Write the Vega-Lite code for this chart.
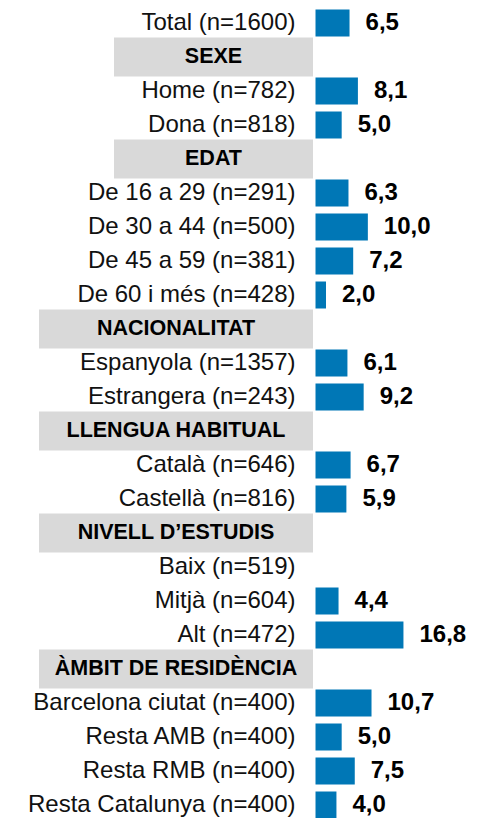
{
  "$schema": "https://vega.github.io/schema/vega-lite/v6.json",
  "width": 477,
  "height": 816,
  "autosize": {"type": "none"},
  "padding": {"top": 6, "left": 0, "right": 0, "bottom": 0},
  "background": "white",
  "config": {
    "view": {"stroke": null},
    "locale": {"number": {"decimal": ",", "thousands": ".", "grouping": [3], "currency": ["", " €"]}},
    "text": {"font": "Liberation Sans"}
  },
  "data": {
    "values": [
      {"label": "Total (n=1600)", "kind": "item", "value": 6.5},
      {"label": "SEXE", "kind": "header", "value": null},
      {"label": "Home (n=782)", "kind": "item", "value": 8.1},
      {"label": "Dona (n=818)", "kind": "item", "value": 5.0},
      {"label": "EDAT", "kind": "header", "value": null},
      {"label": "De 16 a 29 (n=291)", "kind": "item", "value": 6.3},
      {"label": "De 30 a 44 (n=500)", "kind": "item", "value": 10.0},
      {"label": "De 45 a 59 (n=381)", "kind": "item", "value": 7.2},
      {"label": "De 60 i més (n=428)", "kind": "item", "value": 2.0},
      {"label": "NACIONALITAT", "kind": "header", "value": null},
      {"label": "Espanyola (n=1357)", "kind": "item", "value": 6.1},
      {"label": "Estrangera (n=243)", "kind": "item", "value": 9.2},
      {"label": "LLENGUA HABITUAL", "kind": "header", "value": null},
      {"label": "Català (n=646)", "kind": "item", "value": 6.7},
      {"label": "Castellà (n=816)", "kind": "item", "value": 5.9},
      {"label": "NIVELL D’ESTUDIS", "kind": "header", "value": null},
      {"label": "Baix (n=519)", "kind": "item", "value": null},
      {"label": "Mitjà (n=604)", "kind": "item", "value": 4.4},
      {"label": "Alt (n=472)", "kind": "item", "value": 16.8},
      {"label": "ÀMBIT DE RESIDÈNCIA", "kind": "header", "value": null},
      {"label": "Barcelona ciutat (n=400)", "kind": "item", "value": 10.7},
      {"label": "Resta AMB (n=400)", "kind": "item", "value": 5.0},
      {"label": "Resta RMB (n=400)", "kind": "item", "value": 7.5},
      {"label": "Resta Catalunya (n=400)", "kind": "item", "value": 4.0}
    ]
  },
  "encoding": {
    "y": {
      "field": "label",
      "type": "nominal",
      "sort": null,
      "axis": null,
      "scale": {
        "paddingInner": 0,
        "paddingOuter": 0,
        "domain": ["Total (n=1600)", "SEXE", "Home (n=782)", "Dona (n=818)", "EDAT", "De 16 a 29 (n=291)", "De 30 a 44 (n=500)", "De 45 a 59 (n=381)", "De 60 i més (n=428)", "NACIONALITAT", "Espanyola (n=1357)", "Estrangera (n=243)", "LLENGUA HABITUAL", "Català (n=646)", "Castellà (n=816)", "NIVELL D’ESTUDIS", "Baix (n=519)", "Mitjà (n=604)", "Alt (n=472)", "ÀMBIT DE RESIDÈNCIA", "Barcelona ciutat (n=400)", "Resta AMB (n=400)", "Resta RMB (n=400)", "Resta Catalunya (n=400)"]
      }
    }
  },
  "layer": [
    {
      "transform": [{"filter": "datum.label === 'SEXE' || datum.label === 'EDAT'"}],
      "mark": {"type": "bar", "color": "#d9d9d9", "size": 39},
      "encoding": {
        "x": {"datum": -38.49, "type": "quantitative", "scale": {"domain": [-60.27, 30.85], "nice": false, "zero": false}, "axis": null},
        "x2": {"datum": -0.48}
      }
    },
    {
      "transform": [{"filter": "datum.kind === 'header' && datum.label !== 'SEXE' && datum.label !== 'EDAT'"}],
      "mark": {"type": "bar", "color": "#d9d9d9", "size": 39},
      "encoding": {
        "x": {"datum": -52.82, "type": "quantitative"},
        "x2": {"datum": -0.48}
      }
    },
    {
      "transform": [{"filter": "datum.label === 'SEXE' || datum.label === 'EDAT'"}],
      "mark": {"type": "text", "fontWeight": "bold", "fontSize": 21.5, "align": "center", "baseline": "middle", "color": "#000000"},
      "encoding": {
        "x": {"datum": -19.49, "type": "quantitative"},
        "text": {"field": "label"}
      }
    },
    {
      "transform": [{"filter": "datum.kind === 'header' && datum.label !== 'SEXE' && datum.label !== 'EDAT'"}],
      "mark": {"type": "text", "fontWeight": "bold", "fontSize": 21.5, "align": "center", "baseline": "middle", "color": "#000000"},
      "encoding": {
        "x": {"datum": -26.65, "type": "quantitative"},
        "text": {"field": "label"}
      }
    },
    {
      "transform": [{"filter": "datum.kind === 'item'"}],
      "mark": {"type": "text", "fontSize": 24, "align": "right", "baseline": "middle", "dx": -20, "color": "#111111"},
      "encoding": {
        "x": {"datum": 0, "type": "quantitative"},
        "text": {"field": "label"}
      }
    },
    {
      "transform": [{"filter": "datum.value != null"}],
      "mark": {"type": "bar", "color": "#0077b6", "size": 27},
      "encoding": {
        "x": {"field": "value", "type": "quantitative"},
        "x2": {"datum": 0}
      }
    },
    {
      "transform": [{"filter": "datum.value != null"}],
      "mark": {"type": "text", "fontSize": 24, "fontWeight": "bold", "align": "left", "baseline": "middle", "dx": 16, "color": "#000000"},
      "encoding": {
        "x": {"field": "value", "type": "quantitative"},
        "text": {"field": "value", "type": "quantitative", "format": ".1f"}
      }
    },
    {
      "mark": {"type": "rule", "color": "#8c8c8c", "strokeWidth": 1.5},
      "encoding": {
        "x": {"datum": 0, "type": "quantitative"}
      }
    }
  ]
}
